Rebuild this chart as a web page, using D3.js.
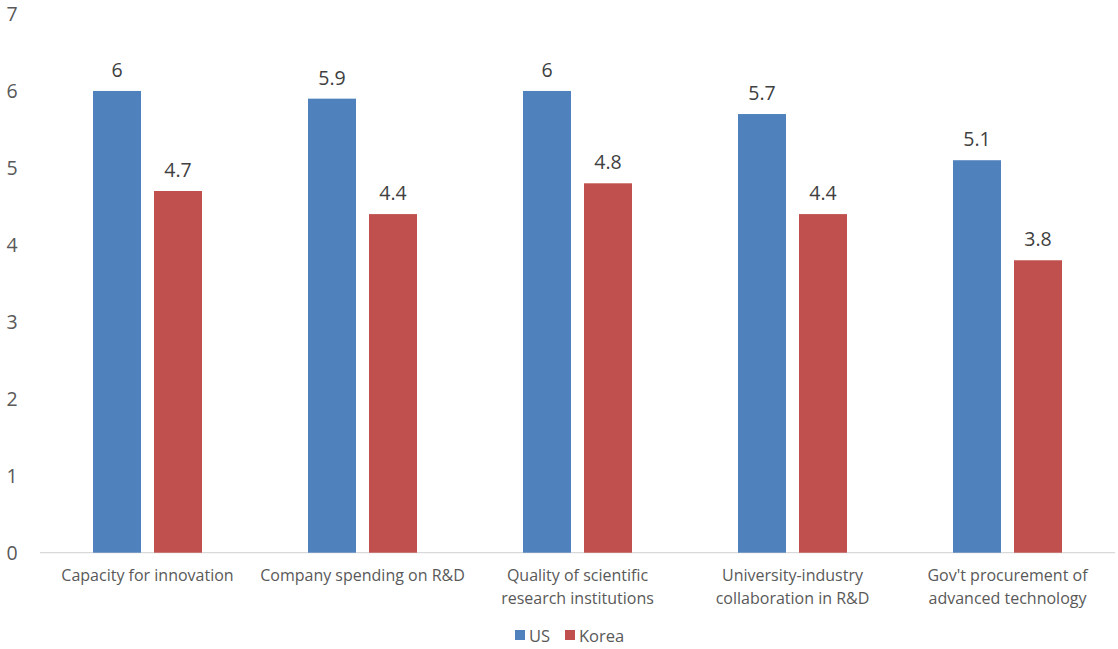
<!DOCTYPE html>
<html><head><meta charset="utf-8">
<script src="https://cdn.jsdelivr.net/npm/d3@7"></script>
<style>body{margin:0;background:#fff;} svg{display:block;}</style>
</head><body>
<svg id="chart" width="1118" height="649"></svg>
<script>
const categories = [
  ["Capacity for innovation"],
  ["Company spending on R&D"],
  ["Quality of scientific", "research institutions"],
  ["University-industry", "collaboration in R&D"],
  ["Gov't procurement of", "advanced technology"]
];
const seriesNames = ["US", "Korea"];
const usValues = [6, 5.9, 6, 5.7, 5.1];
const koreaValues = [4.7, 4.4, 4.8, 4.4, 3.8];
const yTicks = [0, 1, 2, 3, 4, 5, 6, 7];
const colors = ["#4F81BD", "#C0504D"];

const svg = d3.select("#chart");
const font = "'Open Sans', sans-serif";
const x0 = d3.scaleBand().domain(d3.range(categories.length)).range([40, 1115]);
const y = d3.scaleLinear().domain([0, 7]).range([552.7, 14]);
const barW = 48, gap = 13;

// baseline
svg.append("line").attr("x1", 40).attr("x2", 1115)
  .attr("y1", y(0)).attr("y2", y(0)).attr("stroke", "#d9d9d9").attr("stroke-width", 1.2);

// y tick labels
svg.selectAll(".ytick").data(yTicks).enter().append("text")
  .attr("x", 12).attr("y", d => y(d)).attr("dy", "0.35em")
  .attr("text-anchor", "middle").attr("font-family", font).attr("font-size", 19.5)
  .attr("fill", "#595959").text(d => d);

const series = [usValues, koreaValues];
series.forEach((vals, si) => {
  const g = svg.append("g");
  const xpos = i => x0(i) + x0.bandwidth() / 2 - (barW * 2 + gap) / 2 + si * (barW + gap);
  g.selectAll("rect").data(vals).enter().append("rect")
    .attr("x", (d, i) => xpos(i)).attr("width", barW)
    .attr("y", d => y(d)).attr("height", d => y(0) - y(d))
    .attr("fill", colors[si]);
  g.selectAll("text").data(vals).enter().append("text")
    .attr("x", (d, i) => xpos(i) + barW / 2).attr("y", d => y(d) - 14)
    .attr("text-anchor", "middle").attr("font-family", font).attr("font-size", 19.5)
    .attr("fill", "#404040").text(d => d);
});

// category labels
categories.forEach((lines, i) => {
  const t = svg.append("text").attr("text-anchor", "middle")
    .attr("font-family", font).attr("font-size", 16).attr("fill", "#595959");
  lines.forEach((ln, j) => {
    t.append("tspan").attr("x", x0(i) + x0.bandwidth() / 2).attr("y", 581 + j * 23).text(ln);
  });
});

// legend
const legend = [[515, 0], [565, 1]];
legend.forEach(([lx, si]) => {
  svg.append("rect").attr("x", lx).attr("y", 630).attr("width", 10).attr("height", 10).attr("fill", colors[si]);
  svg.append("text").attr("x", lx + 14).attr("y", 642).attr("font-family", font)
    .attr("font-size", 16.5).attr("fill", "#595959").text(seriesNames[si]);
});
</script>
</body></html>
